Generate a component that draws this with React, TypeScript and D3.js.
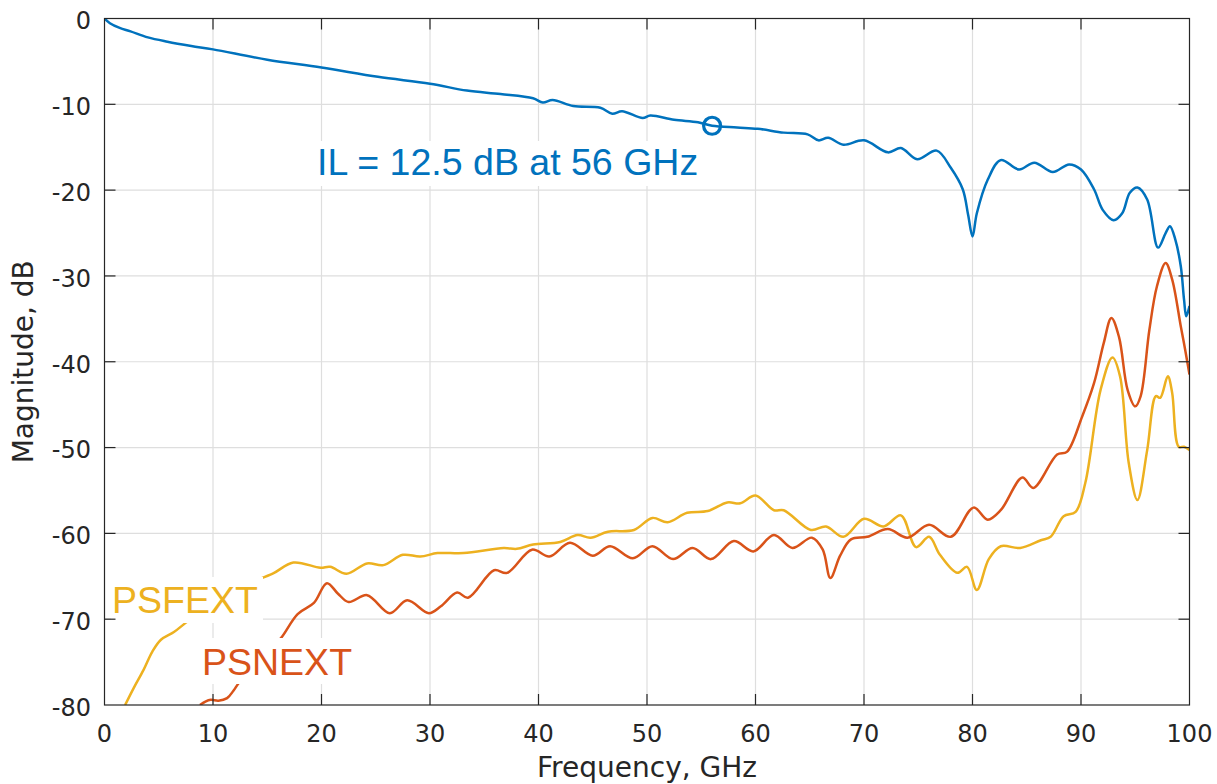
import React from "react";
import * as d3 from "d3";

// ---- Data ----
const xTicks = [0, 10, 20, 30, 40, 50, 60, 70, 80, 90, 100];
const yTicks = [0, -10, -20, -30, -40, -50, -60, -70, -80];

// Insertion loss [GHz, dB]
const ilPoints: [number, number][] = [
  [0, 0], [0.5, -0.55], [1.4, -1.1], [2.4, -1.5], [4, -2.2], [5.8, -2.7], [8, -3.2], [10, -3.6],
  [15, -4.8], [20, -5.7], [25.2, -6.8], [30, -7.6], [33.4, -8.4], [36.5, -8.8], [39.5, -9.3],
  [40.4, -9.8], [41.3, -9.5], [43.2, -10.2], [45.7, -10.4], [46.8, -11.1], [47.7, -10.8],
  [49.6, -11.6], [50.3, -11.3], [52.5, -11.8], [54.7, -12.1], [56, -12.5], [58.3, -12.7],
  [60.2, -12.85], [62.6, -13.3], [64.8, -13.5], [65.8, -14.2], [66.7, -13.9], [68.1, -14.7],
  [70, -14.2], [72.2, -15.6], [73.4, -15.1], [74.9, -16.4], [76.7, -15.4], [78, -17.4],
  [79.1, -19.9], [79.6, -22.9], [80, -25.4], [80.4, -22.7], [81.4, -18.8], [82.6, -16.5],
  [84.3, -17.6], [85.7, -16.8], [87.4, -17.9], [88.9, -17.0], [90, -17.6], [91.2, -19.9],
  [92, -22.3], [93, -23.5], [93.8, -22.7], [94.5, -20.3], [95.2, -19.7], [96.1, -21.1],
  [97.1, -26.7], [97.8, -25.0], [98.2, -24.2], [98.7, -25.8], [99.2, -28.9], [99.5, -32.8],
  [99.7, -34.7], [100, -33.5],
];

// PSFEXT [GHz, dB]
const psfextPoints: [number, number][] = [
  [1.9, -80], [2.7, -78], [3.6, -75.9], [4.4, -73.8], [5.2, -72.4], [6.4, -71.5], [7.5, -70.4],
  [9, -69], [10.5, -67.8], [12, -66.6], [13.5, -65.7], [15.5, -64.7], [17.4, -63.4],
  [19.9, -64.0], [20.8, -63.9], [22.3, -64.7], [24.2, -63.5], [25.7, -63.7], [27.5, -62.5],
  [29.1, -62.7], [30.7, -62.3], [33.1, -62.3], [36.8, -61.7], [38, -61.8], [39.5, -61.3],
  [42, -61.0], [43.6, -60.2], [44.8, -60.5], [46.4, -59.8], [48.8, -59.6], [50.5, -58.2],
  [51.9, -58.7], [53.7, -57.6], [55.6, -57.4], [57.4, -56.4], [58.6, -56.5], [60, -55.6],
  [61.7, -57.3], [62.6, -57.3], [65.1, -59.6], [66.5, -59.2], [68.1, -60.4], [70, -58.3],
  [71.8, -59.2], [73.4, -57.9], [74.8, -61.6], [76, -60.4], [77, -62.5], [78.6, -64.6],
  [79.5, -63.9], [80.4, -66.6], [81.5, -63.0], [82.6, -61.5], [84.4, -61.7], [86.3, -60.8],
  [87.2, -60.4], [88.4, -58.0], [89.5, -57.5], [90.4, -54.1], [91.8, -43.3], [92.9, -39.5],
  [93.6, -41.7], [94.4, -51.8], [95.2, -56.1], [96.1, -50.3], [96.9, -44.0], [97.3, -44.2],
  [98, -41.7], [98.4, -43.6], [99, -49.9], [99.5, -49.9], [100, -50.3],
];

// PSNEXT [GHz, dB]
const psnextPoints: [number, number][] = [
  [8.8, -80], [9.3, -79.6], [9.8, -79.4], [10.5, -79.5], [11.3, -79.2], [11.9, -78.3],
  [12.4, -77.4], [13.5, -76], [14.8, -74], [16.2, -72.3], [17.8, -69.4], [19.3, -68.1],
  [20.5, -65.8], [21.5, -67], [22.5, -68], [24.2, -67.2], [26.3, -69.3], [27.9, -67.8],
  [29.9, -69.3], [31, -68.5], [32.5, -66.9], [33.5, -67.5], [35.9, -64.3], [37.1, -64.6],
  [39.4, -61.9], [41, -62.7], [42.9, -61.1], [45, -62.6], [46.6, -61.5], [48.7, -62.9],
  [50.5, -61.5], [52.4, -63], [54.2, -61.7], [55.9, -63], [58, -60.9], [59.8, -62.1],
  [61.7, -60.2], [63.4, -61.7], [65.2, -60.5], [66.2, -61.9], [66.9, -65.2], [67.8, -62.6],
  [68.8, -60.7], [70.3, -60.4], [72.2, -59.5], [74, -60.5], [76, -59], [78, -60.4],
  [80.1, -57], [81.4, -58.4], [82.6, -57.3], [84.6, -53.5], [85.6, -54.7], [87.8, -50.8],
  [88.7, -50.5], [90.1, -46.4], [91.2, -42.5], [92.1, -37.8], [92.8, -34.9], [93.5, -37.1],
  [94.3, -43.3], [95, -45.2], [95.5, -44], [96.3, -36.3], [97, -31.2], [97.8, -28.5],
  [98.4, -30.4], [99.2, -35.9], [99.6, -38.6], [100, -41.5],
];

const markerPoint: [number, number] = [56, -12.5];
const ilLabel = "IL = 12.5 dB at 56 GHz";
const psfextLabel = "PSFEXT";
const psnextLabel = "PSNEXT";

const W = 1217;
const H = 784;
const L = 104.5, R = 1189.5, T = 18.5, B = 705;

const BLUE = "#0072BD";
const ORANGE = "#D95319";
const YELLOW = "#EDB120";
const AX = "#262626";
const GRID = "#dedede";
const TICK_FONT = "DejaVu Sans, sans-serif";
const ANN_FONT = "Liberation Sans, Arial, sans-serif";

export default function App() {
  const x = d3.scaleLinear().domain([0, 100]).range([L, R]);
  const y = d3.scaleLinear().domain([-80, 0]).range([B, T]);
  const line = d3
    .line<[number, number]>()
    .x((d) => x(d[0]))
    .y((d) => y(d[1]))
    .curve(d3.curveCatmullRom.alpha(0.5));

  const tickLen = 11;

  return (
    <svg
      width={W}
      height={H}
      style={{ position: "absolute", left: 0, top: 0, background: "#fff" }}
    >
      <defs>
        <clipPath id="plotclip">
          <rect x={L} y={T} width={R - L} height={B - T} />
        </clipPath>
      </defs>
      <rect x={0} y={0} width={W} height={H} fill="#fff" />
      {/* grid */}
      {xTicks.slice(1, -1).map((t) => (
        <line key={"gx" + t} x1={x(t)} x2={x(t)} y1={T} y2={B} stroke={GRID} strokeWidth={1.2} />
      ))}
      {yTicks.slice(1, -1).map((t) => (
        <line key={"gy" + t} x1={L} x2={R} y1={y(t)} y2={y(t)} stroke={GRID} strokeWidth={1.2} />
      ))}

      {/* curves */}
      <g clipPath="url(#plotclip)" fill="none" strokeWidth={2.5} strokeLinejoin="round">
        <path d={line(psfextPoints) || ""} stroke={YELLOW} />
        <path d={line(psnextPoints) || ""} stroke={ORANGE} />
        <path d={line(ilPoints) || ""} stroke={BLUE} />
      </g>

      {/* marker */}
      <circle cx={x(markerPoint[0])} cy={y(markerPoint[1])} r={8.5} fill="none" stroke={BLUE} strokeWidth={3.2} />

      {/* annotation boxes */}
      <rect x={316} y={141} width={386} height={45} fill="#fff" />
      <text x={317} y={175} fontFamily={ANN_FONT} fontSize={37.5} fill={BLUE}>{ilLabel}</text>
      <rect x={111} y={577} width={152} height={46} fill="#fff" />
      <text x={112} y={613} fontFamily={ANN_FONT} fontSize={37.5} fill={YELLOW}>{psfextLabel}</text>
      <rect x={201} y={638} width={155} height={46} fill="#fff" />
      <text x={202} y={675} fontFamily={ANN_FONT} fontSize={37.5} fill={ORANGE}>{psnextLabel}</text>

      {/* axes box */}
      <rect x={L} y={T} width={R - L} height={B - T} fill="none" stroke={AX} strokeWidth={1.2} />
      {xTicks.slice(1, -1).map((t) => (
        <g key={"tx" + t} stroke={AX} strokeWidth={1.2}>
          <line x1={x(t)} x2={x(t)} y1={B} y2={B - tickLen} />
          <line x1={x(t)} x2={x(t)} y1={T} y2={T + tickLen} />
        </g>
      ))}
      {yTicks.slice(1, -1).map((t) => (
        <g key={"ty" + t} stroke={AX} strokeWidth={1.2}>
          <line x1={L} x2={L + tickLen} y1={y(t)} y2={y(t)} />
          <line x1={R} x2={R - tickLen} y1={y(t)} y2={y(t)} />
        </g>
      ))}

      {/* tick labels */}
      {xTicks.map((t) => (
        <text key={"lx" + t} x={x(t)} y={742} textAnchor="middle" fontFamily={TICK_FONT} fontSize={24} fill={AX}>
          {t}
        </text>
      ))}
      {yTicks.map((t) => (
        <text key={"ly" + t} x={91} y={y(t)} dy="0.45em" textAnchor="end" fontFamily={TICK_FONT} fontSize={24} fill={AX}>
          {t}
        </text>
      ))}

      {/* axis labels */}
      <text x={(L + R) / 2} y={777} textAnchor="middle" fontFamily={TICK_FONT} fontSize={28} fill={AX}>
        Frequency, GHz
      </text>
      <text
        transform={`translate(33, ${(T + B) / 2}) rotate(-90)`}
        textAnchor="middle"
        fontFamily={TICK_FONT}
        fontSize={28}
        fill={AX}
      >
        Magnitude, dB
      </text>
    </svg>
  );
}
